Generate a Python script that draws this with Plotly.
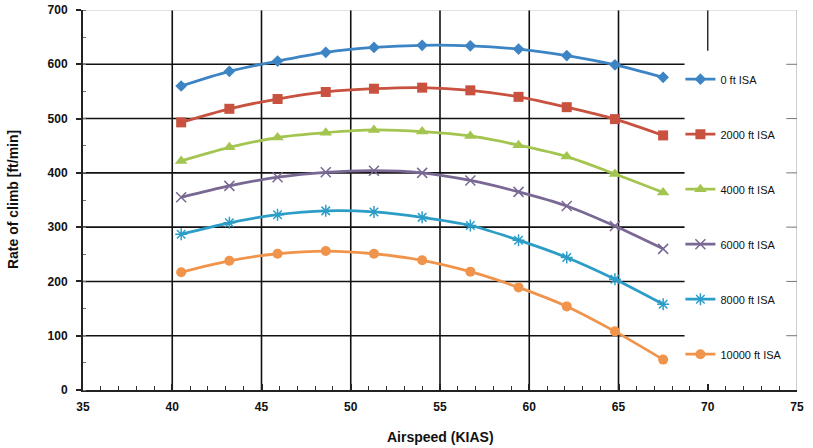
import plotly.graph_objects as go

airspeed = [40.5, 43.2, 45.9, 48.6, 51.3, 54.0, 56.7, 59.4, 62.1, 64.8, 67.5]
roc_0ft = [560, 587, 606, 622, 631, 635, 634, 628, 616, 599, 576]
roc_2000ft = [493, 518, 536, 549, 555, 557, 552, 540, 521, 499, 469]
roc_4000ft = [422, 447, 465, 474, 479, 476, 468, 451, 430, 398, 364]
roc_6000ft = [355, 376, 392, 401, 404, 400, 386, 365, 339, 302, 260]
roc_8000ft = [287, 308, 323, 330, 328, 318, 303, 276, 244, 204, 158]
roc_10000ft = [217, 238, 251, 256, 251, 239, 218, 189, 154, 108, 56]

series_names = ["0 ft ISA", "2000 ft ISA", "4000 ft ISA", "6000 ft ISA", "8000 ft ISA", "10000 ft ISA"]
series_values = [roc_0ft, roc_2000ft, roc_4000ft, roc_6000ft, roc_8000ft, roc_10000ft]
colors = ["#3d84c4", "#c8513f", "#a3c54f", "#786893", "#2c9dc6", "#f0944c"]
symbols = ["diamond", "square", "triangle-up", "x-thin-open", "asterisk-open", "circle"]
sizes = [9, 10, 11, 10, 10, 10]

x_ticks = [35, 40, 45, 50, 55, 60, 65, 70, 75]
y_ticks = [0, 100, 200, 300, 400, 500, 600, 700]

fig = go.Figure()
for i, (name, vals) in enumerate(zip(series_names, series_values)):
    sym = symbols[i]
    marker = dict(symbol=sym, size=sizes[i], color=colors[i])
    if sym.endswith("-open"):
        marker["line"] = dict(color=colors[i], width=1.5)
    fig.add_trace(go.Scatter(
        x=airspeed, y=vals, name=name, mode="lines+markers",
        line=dict(color=colors[i], width=2.8, shape="spline", smoothing=0.8),
        marker=marker, legendgroup=name,
    ))

shapes = []
for xv in [40, 45, 50, 55, 60, 65]:
    shapes.append(dict(type="line", xref="x", yref="y", x0=xv, x1=xv, y0=0, y1=700,
                       line=dict(color="#111111", width=1.6), layer="below"))
shapes.append(dict(type="line", xref="x", yref="y", x0=70, x1=70, y0=625, y1=700,
                   line=dict(color="#222222", width=1.4), layer="below"))
for yv in [100, 200, 300, 400, 500, 600]:
    shapes.append(dict(type="line", xref="x", yref="y", x0=35, x1=68.7, y0=yv, y1=yv,
                       line=dict(color="#111111", width=1.6), layer="below"))
shapes.append(dict(type="line", xref="x", yref="y", x0=35, x1=75, y0=700, y1=700,
                   line=dict(color="#c8c8c8", width=1.2), layer="below"))
shapes.append(dict(type="line", xref="x", yref="y", x0=75, x1=75, y0=0, y1=700,
                   line=dict(color="#b0b0b0", width=1.2), layer="below"))
for yv in [100, 200, 300, 400, 500, 600]:
    shapes.append(dict(type="line", xref="x", yref="y", x0=74.4, x1=75, y0=yv, y1=yv,
                       line=dict(color="#777777", width=1), layer="below"))

fig.update_layout(
    width=813, height=448,
    margin=dict(l=83, r=16, t=10, b=58, autoexpand=False),
    paper_bgcolor="white", plot_bgcolor="white",
    font=dict(family="Liberation Sans, Arial, sans-serif", color="#111111"),
    showlegend=True,
    legend=dict(x=0.8367, y=0.856, xanchor="left", yanchor="top",
                bgcolor="rgba(0,0,0,0)", tracegroupgap=36,
                font=dict(size=11, color="#111111"), itemwidth=30),
    shapes=shapes,
    annotations=[
        dict(text="<b>Rate of climb [ft/min]</b>", xref="paper", yref="paper",
             x=-0.098, y=0.5, xanchor="center", yanchor="middle", textangle=-90,
             showarrow=False, font=dict(size=14, color="#111111")),
        dict(text="<b>Airspeed (KIAS)</b>", xref="paper", yref="paper",
             x=0.5, y=-0.1237, xanchor="center", yanchor="middle",
             showarrow=False, font=dict(size=14, color="#111111")),
    ],
    xaxis=dict(range=[35, 75], tickvals=x_ticks, ticktext=["<b>%d</b>" % v for v in x_ticks],
               automargin=False,
               showgrid=False, zeroline=False, showline=True, linecolor="#222222", linewidth=2,
               ticks="inside", ticklen=6, tickcolor="#222222", tickwidth=1.5,
               ticklabelstandoff=5,
               minor=dict(dtick=1, ticks="inside", ticklen=4, tickcolor="#333333", tickwidth=1),
               tickfont=dict(size=12, family="Liberation Sans, Arial", color="#111111")),
    yaxis=dict(range=[0, 700], tickvals=y_ticks, ticktext=["<b>%d</b>" % v for v in y_ticks],
               automargin=False,
               showgrid=False, zeroline=False, showline=True, linecolor="#222222", linewidth=2,
               ticks="outside", ticklen=5, tickcolor="#222222", tickwidth=1.5,
               ticklabelstandoff=6,
               minor=dict(dtick=50, ticks="inside", ticklen=3, tickcolor="#777777", tickwidth=1),
               tickfont=dict(size=12, family="Liberation Sans, Arial", color="#111111")),
)

fig.write_html("out.html", config={"displayModeBar": False},
               post_script="document.body.style.margin='0px';")
